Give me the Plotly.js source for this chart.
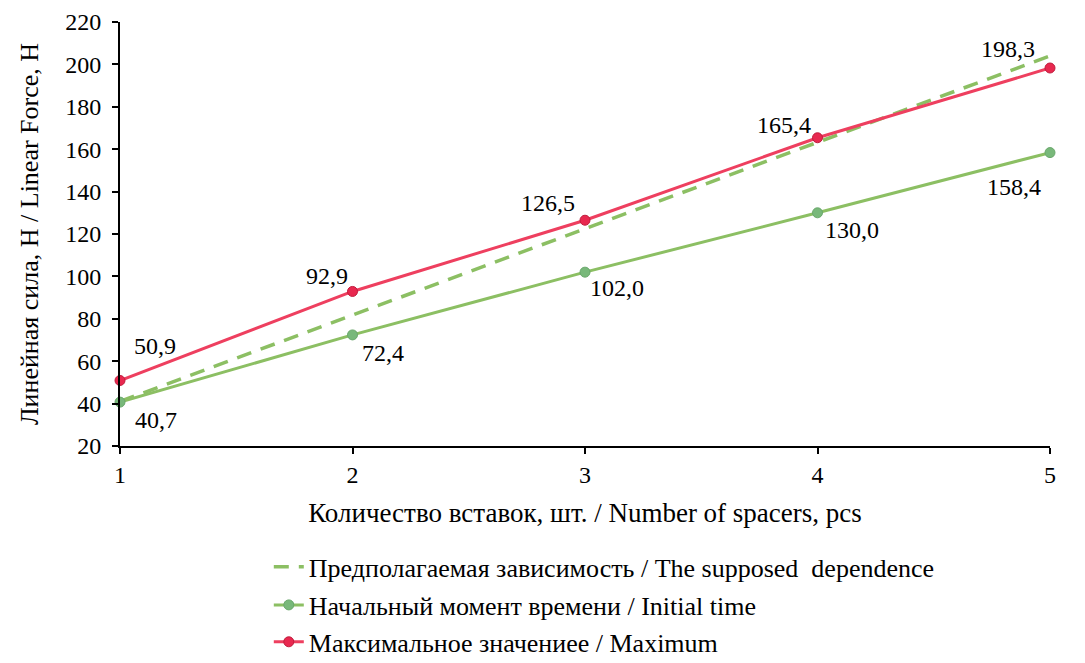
<!DOCTYPE html>
<html>
<head>
<meta charset="utf-8">
<script src="https://cdn.plot.ly/plotly-3.0.1.min.js"></script>
<style>html,body{margin:0;padding:0;background:#fff;}#chart{width:1085px;height:663px;}</style>
</head>
<body>
<div id="chart"></div>
<script>
const spacers = [1, 2, 3, 4, 5];
const supposed = [41.0, 81.8, 122.5, 163.2, 204.0];
const initialTime = [40.7, 72.4, 102.0, 130.0, 158.4];
const maximum = [50.9, 92.9, 126.5, 165.4, 198.3];

const nameSupposed = 'Предполагаемая зависимость / The supposed\u00a0 dependence';
const nameInitial = 'Начальный момент времени / Initial time';
const nameMaximum = 'Максимальное значениее / Maximum';

const xTitle = 'Количество вставок, шт. / Number of spacers, pcs';
const yTitle = 'Линейная сила, Н / Linear Force, Н';

const FONT = '"Liberation Serif", serif';
const GREEN = '#8cbf63';
const RED = '#ee3f5f';

// label offsets (px) for each point
const maxShift = [[35, 34], [-26, 15], [-37, 17], [-34, 13], [-42, 19]];
const initShift = [[36, -18], [30, -18], [32, -16], [34, -17], [-36, -34]];

function fmt(v) { return v.toFixed(1).replace('.', ','); }

const traces = [
  {
    x: spacers, y: supposed, name: nameSupposed, mode: 'lines',
    line: {color: GREEN, width: 3.5, dash: '15px,10px'},
    legend: 'legend', cliponaxis: false, hoverinfo: 'skip'
  },
  {
    x: spacers, y: initialTime, name: nameInitial, mode: 'lines+markers',
    line: {color: GREEN, width: 3},
    marker: {color: '#78b87a', size: 10, line: {color: '#6aa86c', width: 1}},
    legend: 'legend2', cliponaxis: false
  },
  {
    x: spacers, y: maximum, name: nameMaximum, mode: 'lines+markers',
    line: {color: RED, width: 3},
    marker: {color: '#e8284f', size: 10, line: {color: '#c01c3c', width: 1}},
    legend: 'legend3', cliponaxis: false
  }
];

const annotations = [];
maximum.forEach((v, i) => annotations.push({
  x: spacers[i], y: v, xref: 'x', yref: 'y', text: fmt(v), showarrow: false,
  xshift: maxShift[i][0], yshift: maxShift[i][1], font: {family: FONT, size: 24, color: '#000'}
}));
initialTime.forEach((v, i) => annotations.push({
  x: spacers[i], y: v, xref: 'x', yref: 'y', text: fmt(v), showarrow: false,
  xshift: initShift[i][0], yshift: initShift[i][1], font: {family: FONT, size: 24, color: '#000'}
}));

const legendBase = {
  x: 0.16, xanchor: 'left', yanchor: 'middle', orientation: 'v',
  bgcolor: 'rgba(0,0,0,0)', borderwidth: 0,
  font: {family: FONT, size: 26, color: '#000'}
};

const layout = {
  width: 1085, height: 663,
  margin: {l: 120, r: 35, t: 22, b: 217, autoexpand: false},
  paper_bgcolor: '#fff', plot_bgcolor: '#fff',
  font: {family: FONT, size: 24, color: '#000'},
  showlegend: true,
  xaxis: {
    range: [1, 5], tickvals: spacers, ticktext: spacers.map(String),
    showgrid: false, zeroline: false, showline: true, linecolor: '#000', linewidth: 2,
    ticks: 'outside', ticklen: 6, tickwidth: 2, tickcolor: '#000',
    tickfont: {family: FONT, size: 24, color: '#000'},
    title: {text: xTitle, font: {family: FONT, size: 27, color: '#000'}, standoff: 16}
  },
  yaxis: {
    range: [20, 220], dtick: 20, tick0: 20,
    showgrid: false, zeroline: false, showline: true, linecolor: '#000', linewidth: 2,
    ticks: 'outside', ticklen: 6, tickwidth: 2, tickcolor: '#000',
    ticklabelstandoff: 6,
    tickfont: {family: FONT, size: 24, color: '#000'},
    title: {text: yTitle, font: {family: FONT, size: 26, color: '#000'}, standoff: 19}
  },
  legend: Object.assign({}, legendBase, {y: -0.285}),
  legend2: Object.assign({}, legendBase, {y: -0.375}),
  legend3: Object.assign({}, legendBase, {y: -0.462}),
  annotations: annotations
};

Plotly.newPlot('chart', traces, layout, {displayModeBar: false, staticPlot: true});
</script>
</body>
</html>
